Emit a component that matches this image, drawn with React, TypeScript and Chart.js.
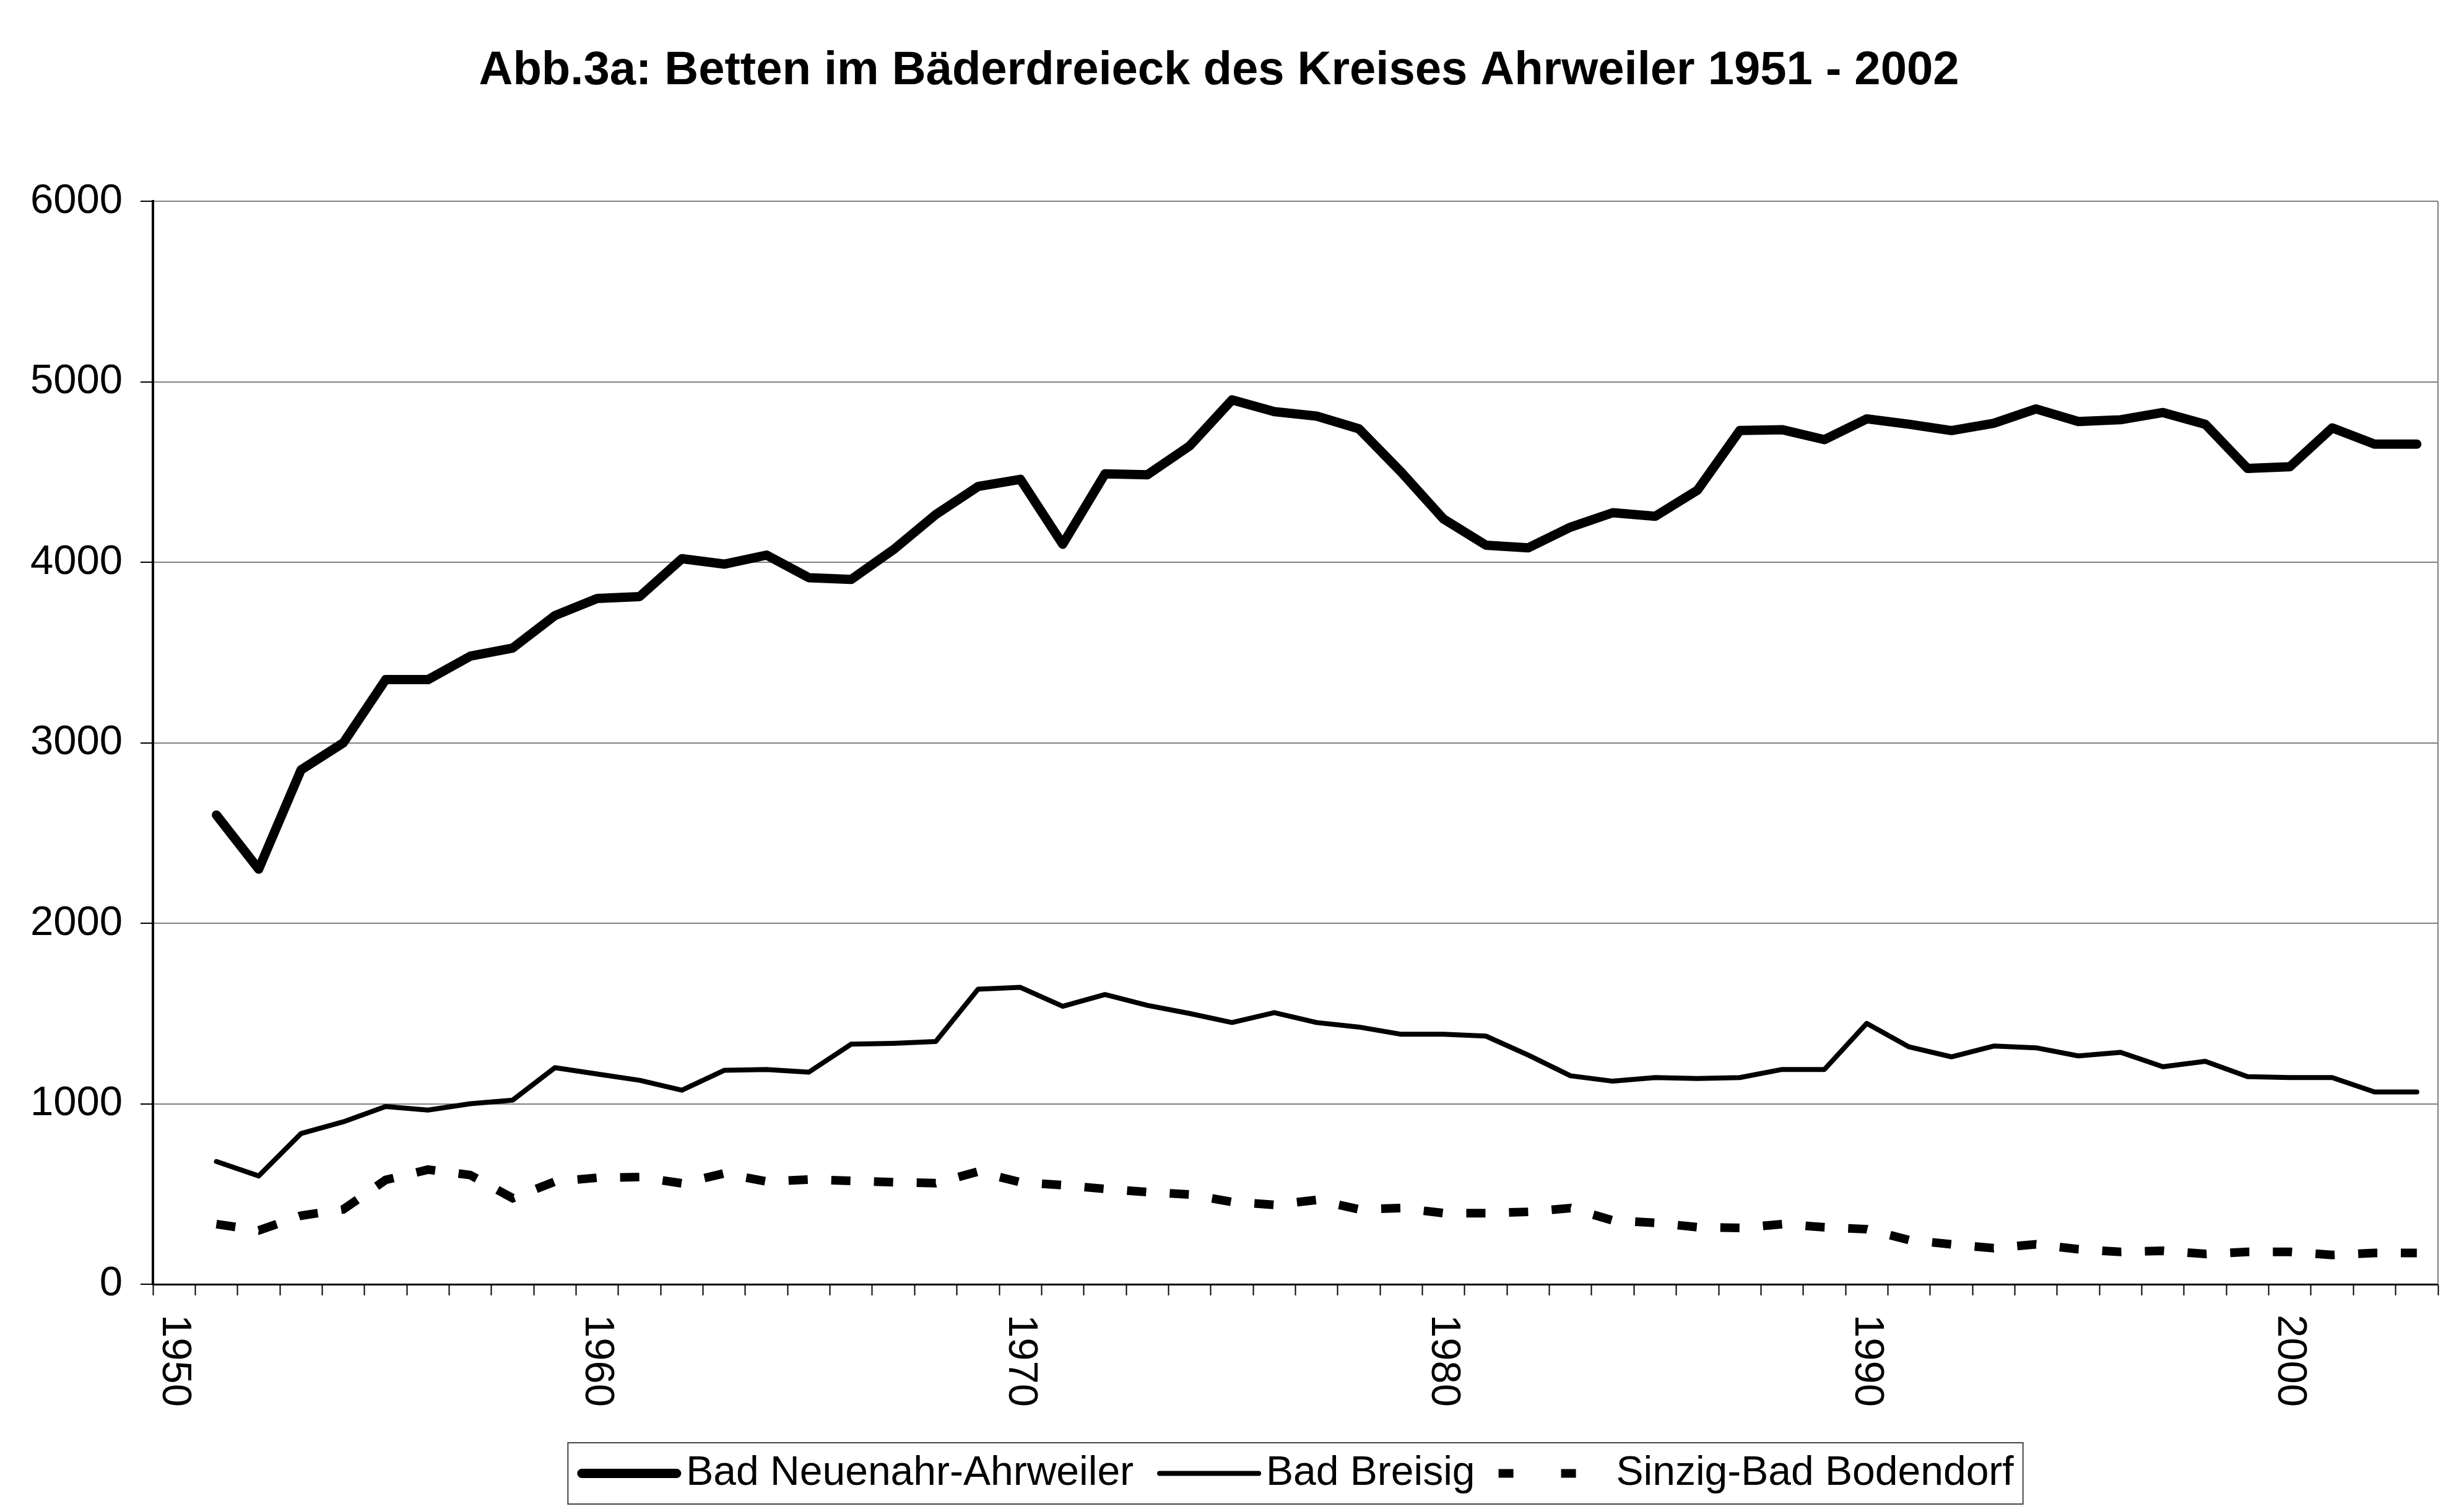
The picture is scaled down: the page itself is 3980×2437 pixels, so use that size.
import React, { useEffect, useRef } from 'react';
import { Chart, registerables } from 'chart.js';

Chart.register(...registerables);

const FONT = "'Liberation Sans', Arial, Helvetica, sans-serif";

const TITLE = 'Abb.3a: Betten im Bäderdreieck des Kreises Ahrweiler 1951 - 2002';

const years = [
  '1950', '1951', '1952', '1953', '1954', '1955', '1956', '1957', '1958', '1959',
  '1960', '1961', '1962', '1963', '1964', '1965', '1966', '1967', '1968', '1969',
  '1970', '1971', '1972', '1973', '1974', '1975', '1976', '1977', '1978', '1979',
  '1980', '1981', '1982', '1983', '1984', '1985', '1986', '1987', '1988', '1989',
  '1990', '1991', '1992', '1993', '1994', '1995', '1996', '1997', '1998', '1999',
  '2000', '2001', '2002', '2003',
];

const xTickLabels = ['1950', '1960', '1970', '1980', '1990', '2000'];

const seriesNames = ['Bad Neuenahr-Ahrweiler', 'Bad Breisig', 'Sinzig-Bad Bodendorf'];

const neuenahr = [
  null, 2600, 2300, 2850, 3000, 3350, 3350, 3480, 3525, 3705,
  3800, 3810, 4020, 3990, 4040, 3915, 3905, 4070, 4265, 4420,
  4460, 4100, 4490, 4485, 4645, 4900, 4835, 4810, 4740, 4500,
  4240, 4095, 4080, 4195, 4275, 4255, 4400, 4730, 4735, 4680,
  4795, 4765, 4730, 4770, 4850, 4780, 4790, 4830, 4765, 4520,
  4530, 4745, 4655, 4655,
];

const breisig = [
  null, 680, 600, 835, 900, 985, 965, 1000, 1020, 1200,
  1165, 1130, 1075, 1185, 1190, 1175, 1330, 1335, 1345, 1635,
  1645, 1540, 1605, 1545, 1500, 1450, 1505, 1450, 1425, 1385,
  1385, 1375, 1270, 1155, 1125, 1145, 1140, 1145, 1190, 1190,
  1445, 1315, 1260, 1320, 1310, 1265, 1285, 1205, 1235, 1150,
  1145, 1145, 1065, 1065,
];

const sinzig = [
  null, 333, 298, 380, 415, 578, 635, 605, 477, 569,
  590, 594, 559, 614, 569, 580, 573, 565, 560, 624,
  565, 549, 528, 511, 497, 456, 440, 467, 415, 422,
  394, 394, 401, 422, 353, 340, 316, 312, 333, 316,
  305, 245, 221, 200, 221, 194, 179, 185, 168, 179,
  179, 162, 173, 173,
];

const yMin = 0;
const yMax = 6000;
const yStep = 1000;

const xLabelPlugin = {
  id: 'clockwiseXLabels',
  afterDraw(chart: any) {
    const xs = chart.scales.x;
    const ctx = chart.ctx;
    ctx.save();
    ctx.font = `67px ${FONT}`;
    ctx.fillStyle = '#000';
    ctx.textAlign = 'left';
    ctx.textBaseline = 'middle';
    years.forEach((lab, i) => {
      if (!xTickLabels.includes(lab)) return;
      const x = xs.getPixelForValue(i);
      ctx.save();
      ctx.translate(x, xs.bottom + 31);
      ctx.rotate(Math.PI / 2);
      ctx.fillText(lab, 0, 0);
      ctx.restore();
    });
    ctx.restore();
  },
};

const plotBorderPlugin = {
  id: 'plotBorder',
  beforeDatasetsDraw(chart: any) {
    const { ctx, chartArea } = chart;
    ctx.save();
    ctx.strokeStyle = '#808080';
    ctx.lineWidth = 2;
    ctx.beginPath();
    ctx.moveTo(chartArea.right, chartArea.top);
    ctx.lineTo(chartArea.right, chartArea.bottom);
    ctx.stroke();
    ctx.restore();
  },
};

const framedLegendPlugin = {
  id: 'framedLegend',
  afterDraw(chart: any) {
    const { ctx, chartArea } = chart;
    const ds = chart.data.datasets;
    ctx.save();
    ctx.font = `66px ${FONT}`;
    const widths = ds.map((d: any) => ctx.measureText(d.label).width);
    const solidSample = 168;
    const solidGap = 8;
    const dashSample = 125;
    const dashGap = 65;
    const itemGap = 38;
    const margin = 15;
    const sampleSpan = (d: any) => (d.borderDash ? dashSample + dashGap : solidSample + solidGap);
    const total =
      margin * 2 +
      widths.reduce((a: number, w: number) => a + w, 0) +
      ds.reduce((a: number, d: any) => a + sampleSpan(d), 0) +
      (ds.length - 1) * itemGap;
    const cx = (chartArea.left + chartArea.right) / 2;
    const left = cx - total / 2;
    const h = 99;
    const top = chart.height - 107;
    ctx.strokeStyle = '#444';
    ctx.lineWidth = 2;
    ctx.strokeRect(left, top, total, h);
    let x = left + margin;
    const cy = top + h / 2;
    ds.forEach((d: any, i: number) => {
      ctx.beginPath();
      ctx.strokeStyle = d.borderColor;
      ctx.lineWidth = d.borderWidth;
      if (d.borderDash) {
        ctx.setLineDash([24, 77]);
        ctx.lineCap = 'butt';
        ctx.moveTo(x, cy);
        ctx.lineTo(x + dashSample, cy);
      } else {
        ctx.setLineDash([]);
        ctx.lineCap = 'round';
        ctx.moveTo(x + d.borderWidth / 2, cy);
        ctx.lineTo(x + solidSample - d.borderWidth / 2, cy);
      }
      ctx.stroke();
      ctx.setLineDash([]);
      x += sampleSpan(d);
      ctx.fillStyle = '#000';
      ctx.textAlign = 'left';
      ctx.textBaseline = 'middle';
      ctx.fillText(d.label, x, cy);
      x += widths[i] + itemGap;
    });
    ctx.restore();
  },
};

export default function App() {
  const canvasRef = useRef<HTMLCanvasElement | null>(null);

  useEffect(() => {
    if (!canvasRef.current) return;
    const chart = new Chart(canvasRef.current, {
      type: 'line',
      data: {
        labels: years,
        datasets: [
          {
            label: seriesNames[0],
            data: neuenahr,
            borderColor: '#000',
            backgroundColor: '#000',
            borderWidth: 15,
            pointRadius: 0,
            borderCapStyle: 'round',
            borderJoinStyle: 'round',
            tension: 0,
            fill: false,
          },
          {
            label: seriesNames[1],
            data: breisig,
            borderColor: '#000',
            backgroundColor: '#000',
            borderWidth: 8,
            pointRadius: 0,
            borderCapStyle: 'round',
            borderJoinStyle: 'round',
            tension: 0,
            fill: false,
          },
          {
            label: seriesNames[2],
            data: sinzig,
            borderColor: '#000',
            backgroundColor: '#000',
            borderWidth: 14,
            borderDash: [31, 38],
            pointRadius: 0,
            borderCapStyle: 'butt',
            borderJoinStyle: 'miter',
            tension: 0,
            fill: false,
          },
        ],
      },
      options: {
        responsive: false,
        animation: false,
        devicePixelRatio: 1,
        layout: { padding: { left: 0, right: 42, top: 0, bottom: 345 } },
        plugins: {
          legend: { display: false },
          tooltip: { enabled: false },
          title: {
            display: true,
            text: TITLE,
            color: '#000',
            font: { family: FONT, size: 76, weight: 'bold', lineHeight: 1.2 },
            padding: { top: 69, bottom: 165 },
          },
        },
        scales: {
          x: {
            type: 'category',
            offset: true,
            grid: {
              offset: true,
              drawOnChartArea: false,
              drawTicks: true,
              tickLength: 18,
              tickColor: '#000',
              tickWidth: 2,
              color: '#000',
            },
            border: { display: true, color: '#000', width: 3 },
            ticks: { display: false, autoSkip: false },
          },
          y: {
            min: yMin,
            max: yMax,
            ticks: {
              stepSize: yStep,
              color: '#000',
              padding: 29,
              font: { family: FONT, size: 67 },
              callback: (v: any) => String(v),
            },
            grid: {
              color: '#808080',
              lineWidth: 2,
              tickLength: 20,
              tickColor: '#000',
              tickWidth: 2,
            },
            border: { color: '#000', width: 4 },
            afterFit: (s: any) => {
              s.width = 247;
            },
          },
        },
      } as any,
      plugins: [plotBorderPlugin, xLabelPlugin, framedLegendPlugin],
    });
    return () => chart.destroy();
  }, []);

  return (
    <div style={{ position: 'fixed', left: 0, top: 0, width: 3980, height: 2437, background: '#fff' }}>
      <canvas ref={canvasRef} width={3980} height={2437} style={{ display: 'block' }} />
    </div>
  );
}
